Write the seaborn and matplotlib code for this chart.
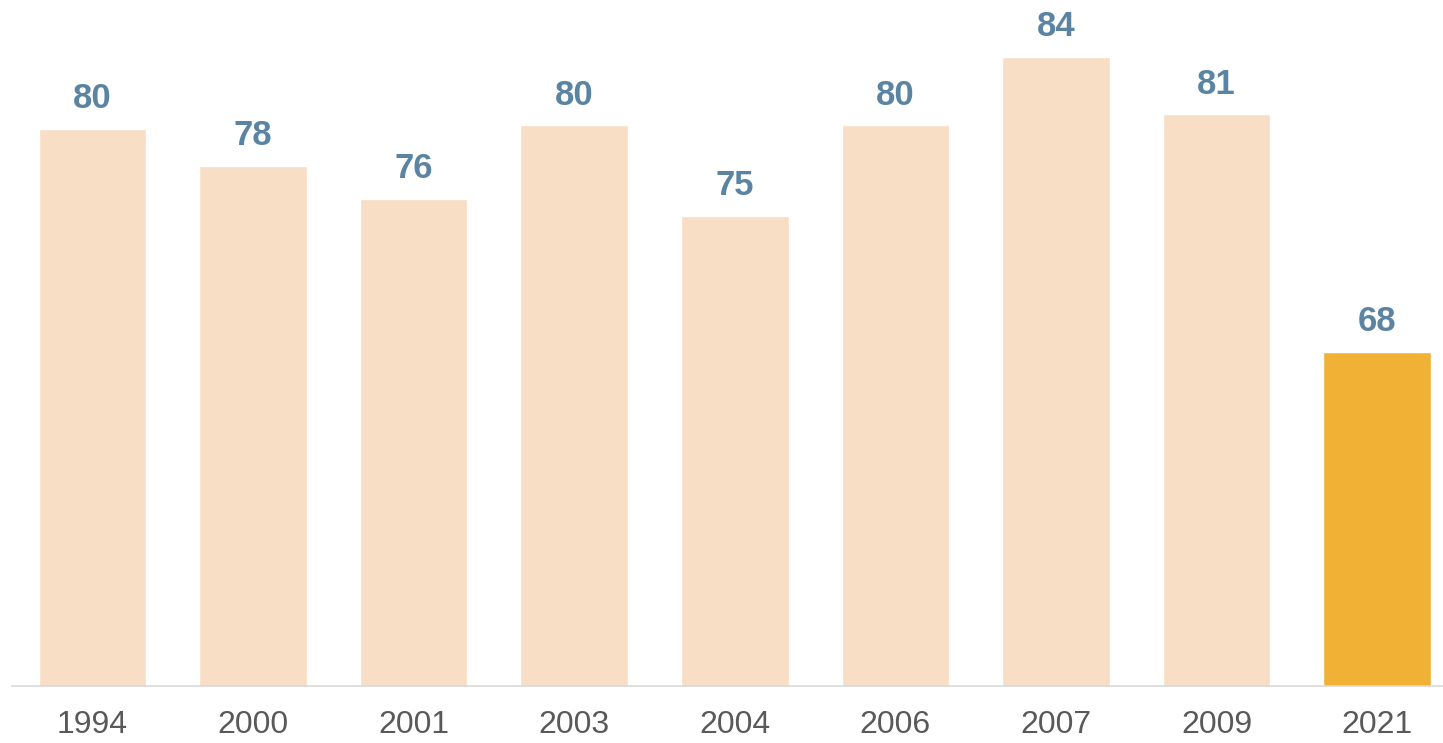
import matplotlib
matplotlib.use("Agg")
import matplotlib.pyplot as plt
import seaborn as sns
import pandas as pd

# data
years = ["1994", "2000", "2001", "2003", "2004", "2006", "2007", "2009", "2021"]
values = [80.2, 78.2, 76.4, 80.4, 75.5, 80.4, 84.1, 81.0, 68.1]
labels = ["80", "78", "76", "80", "75", "80", "84", "81", "68"]

light = "#F7DEC4"
gold = "#F0B135"
colors = [light] * (len(years) - 1) + [gold]

df = pd.DataFrame({"year": years, "value": values})

sns.set_theme(style="white")
plt.rcParams["font.family"] = ["Liberation Sans", "DejaVu Sans"]

fig = plt.figure(figsize=(14.43, 7.43), dpi=100)
ax = fig.add_axes([12 / 1443, 1 - 686 / 743, 1 - 12 / 1443, 686 / 743])

sns.barplot(data=df, x="year", y="value", hue="year", palette=colors,
            legend=False, width=0.67, ax=ax, saturation=1)

ax.set_ylim(50, 50 + 686 / 18.44)
ax.set_xlim(-0.5, 8.41)

for i, (v, lab) in enumerate(zip(values, labels)):
    ax.annotate(lab, (i, v), xytext=(0, 15), textcoords="offset points",
                ha="center", va="baseline", fontsize=25, fontweight="bold",
                color="#5B84A3")

ax.set_xlabel("")
ax.set_ylabel("")
ax.set_yticks([])
ax.tick_params(axis="x", length=0, labelsize=23, labelcolor="#595959", pad=17)
for s in ["top", "right", "left"]:
    ax.spines[s].set_visible(False)
ax.spines["bottom"].set_color("#D9D9D9")
ax.spines["bottom"].set_linewidth(1.2)

fig.savefig("out.png", dpi=100)
